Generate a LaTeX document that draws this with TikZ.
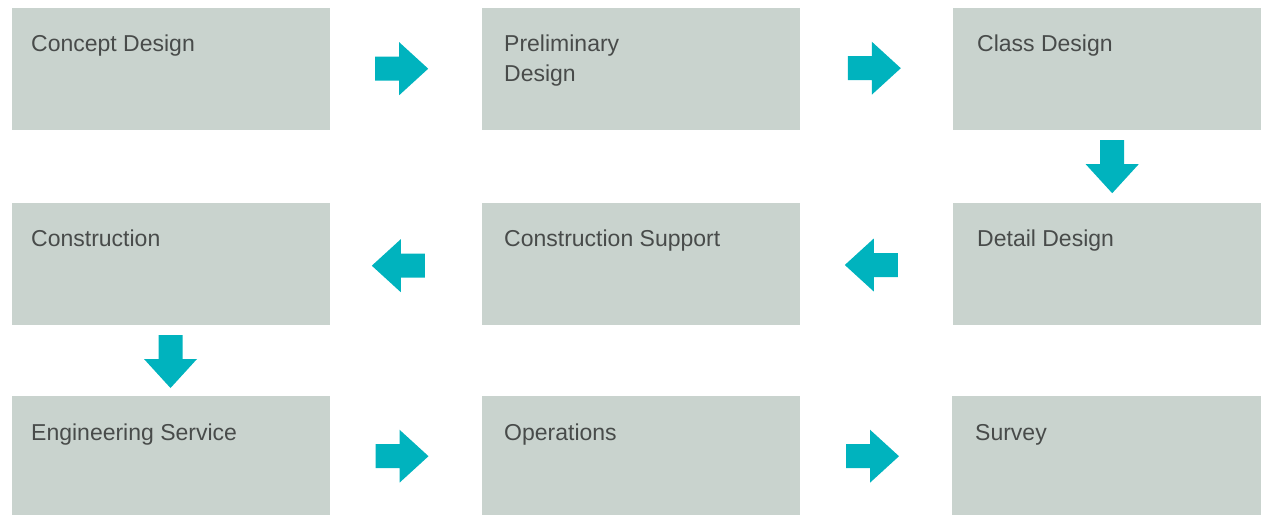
\documentclass[tikz,border=0pt]{standalone}
\usepackage{fontspec}
\setmainfont{Liberation Sans}
\definecolor{boxc}{RGB}{201,211,206}
\definecolor{arrowc}{RGB}{0,179,190}
\definecolor{txtc}{RGB}{72,75,74}
\begin{document}
\begin{tikzpicture}[x=1pt,y=-1pt,
  box/.style={fill=boxc, draw=none, anchor=north west, inner sep=0pt, outer sep=0pt},
  lbl/.style={anchor=base west, inner sep=0pt, text=txtc, font=\fontsize{23}{30}\selectfont, align=left},
  barrow/.pic={\fill[arrowc] (-26.5,-12)--(-2.5,-12)--(-2.5,-26.5)--(26.5,0)--(-2.5,26.5)--(-2.5,12)--(-26.5,12)--cycle;}]
\useasboundingbox (0,0) rectangle (1261,515);
% boxes
\node[box, minimum width=318pt, minimum height=122pt] (b1) at (12,8) {};
\node[box, minimum width=318pt, minimum height=122pt] (b2) at (482,8) {};
\node[box, minimum width=308pt, minimum height=122pt] (b3) at (953,8) {};
\node[box, minimum width=318pt, minimum height=122pt] (b4) at (12,203) {};
\node[box, minimum width=318pt, minimum height=122pt] (b5) at (482,203) {};
\node[box, minimum width=308pt, minimum height=122pt] (b6) at (953,203) {};
\node[box, minimum width=318pt, minimum height=119pt] (b7) at (12,396) {};
\node[box, minimum width=318pt, minimum height=119pt] (b8) at (482,396) {};
\node[box, minimum width=309pt, minimum height=119pt] (b9) at (952,396) {};
% labels
\node[lbl] (t1) at (31,51.7) {Concept Design};
\node[lbl] (t2a) at (504,51.7) {Preliminary};
\node[lbl] (t2b) at (504,81.7) {Design};
\node[lbl] (t3) at (977,51.7) {Class Design};
\node[lbl] (t4) at (31,246.7) {Construction};
\node[lbl] (t5) at (504,246.7) {Construction Support};
\node[lbl] (t6) at (977,246.7) {Detail Design};
\node[lbl] (t7) at (31,440.7) {Engineering Service};
\node[lbl] (t8) at (504,440.7) {Operations};
\node[lbl] (t9) at (975,440.7) {Survey};
% arrows
\pic at (401.7,68.7) {barrow};
\pic at (874.3,68.2) {barrow};
\pic[rotate=-90] at (1112.2,166.7) {barrow};
\pic[rotate=180] at (871.3,265) {barrow};
\pic[rotate=180] at (398.3,265.7) {barrow};
\pic[rotate=-90] at (170.5,361.5) {barrow};
\pic at (402,456.2) {barrow};
\pic at (872.5,456.2) {barrow};
\end{tikzpicture}
\end{document}
